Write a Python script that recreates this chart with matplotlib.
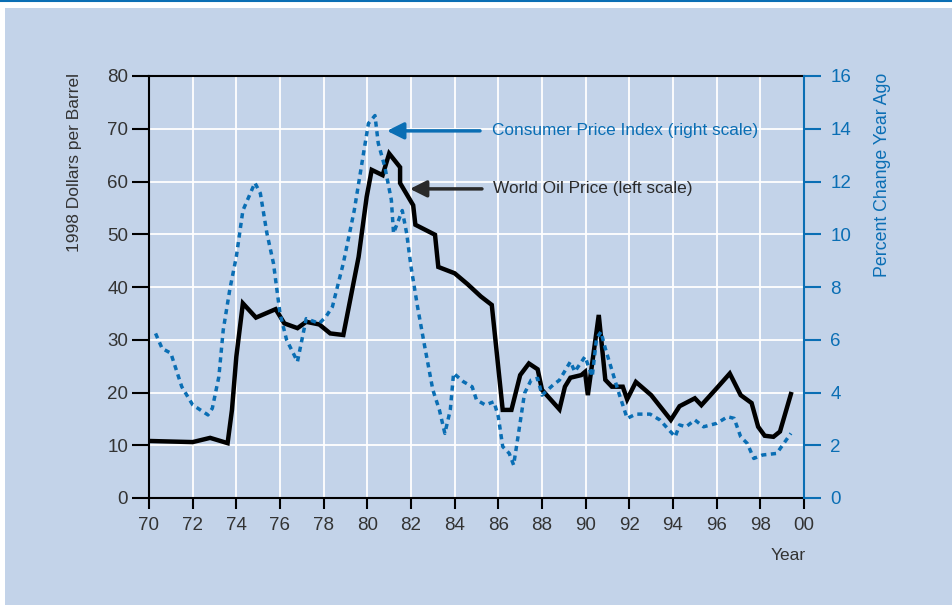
import numpy as np
import matplotlib.pyplot as plt
import matplotlib.patches as mpatches
from matplotlib.lines import Line2D

plt.rcParams['font.family'] = ['Liberation Sans', 'DejaVu Sans']

# World oil price, 1998 dollars per barrel (left scale)
oil_year = [70.1, 72.0, 72.8, 73.6, 73.8, 74.0, 74.3, 74.9, 75.8, 76.2, 76.8, 77.2,
            77.8, 78.3, 78.9, 79.6, 79.97, 80.2, 80.7, 81.0, 81.5, 81.5, 82.1, 82.2,
            83.1, 83.25, 84.0, 84.6, 85.2, 85.7, 86.2, 86.6, 87.0, 87.4, 87.8, 88.0,
            88.8, 89.05, 89.3, 89.8, 89.97, 90.1, 90.6, 90.9, 91.2, 91.7, 91.9, 92.3,
            93.0, 93.9, 94.3, 95.0, 95.3, 96.0, 96.6, 97.1, 97.6, 97.9, 98.2, 98.6,
            98.9, 99.4]
oil_price = [10.8, 10.6, 11.4, 10.4, 16.7, 26.8, 36.9, 34.2, 35.8, 33.1, 32.2, 33.4,
             32.9, 31.2, 30.9, 45.7, 57.1, 62.2, 61.2, 65.3, 62.7, 59.7, 55.5, 51.8,
             49.9, 43.8, 42.6, 40.5, 38.2, 36.6, 16.7, 16.7, 23.3, 25.5, 24.4, 20.5,
             16.8, 21.1, 22.8, 23.3, 23.9, 19.5, 34.7, 22.4, 21.1, 21.1, 18.7, 22.0,
             19.5, 14.8, 17.4, 18.9, 17.6, 20.8, 23.6, 19.5, 18.0, 13.5, 11.8, 11.6,
             12.6, 19.7]

# Consumer price index, percent change year ago (right scale)
cpi_year = [70.3, 70.6, 71.0, 71.5, 72.0, 72.7, 72.9, 73.2, 73.4, 73.7, 74.0, 74.3,
            74.85, 75.1, 75.4, 75.7, 76.0, 76.3, 76.8, 77.2, 77.8, 78.1, 78.4, 78.9,
            79.4, 79.8, 80.05, 80.35, 80.5, 80.8, 81.1, 81.2, 81.6, 81.8, 82.0, 82.3,
            82.6, 83.0, 83.3, 83.55, 83.8, 83.95, 84.4, 84.8, 85.0, 85.4, 85.8, 86.0,
            86.2, 86.5, 86.7, 86.9, 87.2, 87.5, 87.8, 88.0, 88.5, 88.8, 89.3, 89.5,
            89.97, 90.3, 90.5, 90.7, 90.9, 91.2, 91.5, 91.9, 92.3, 92.95, 93.4, 94.1,
            94.3, 94.6, 95.0, 95.4, 96.0, 96.5, 96.8, 97.1, 97.4, 97.7, 98.1, 98.75,
            99.4]
cpi_pct = [6.24, 5.67, 5.49, 4.22, 3.53, 3.15, 3.40, 4.6, 6.37, 7.9, 9.15, 10.9,
           11.95, 11.55, 10.04, 8.9, 7.0, 6.0, 5.17, 6.8, 6.62, 6.87, 7.25, 8.9,
           10.9, 12.94, 14.2, 14.5, 13.45, 12.56, 11.3, 10.04, 10.9, 10.04, 8.77, 7.25,
           5.87, 4.1, 3.34, 2.45, 3.34, 4.73, 4.41, 4.22, 3.72, 3.53, 3.65, 3.08,
           1.95, 1.69, 1.25, 2.32, 3.97, 4.47, 4.54, 3.9, 4.28, 4.47, 5.17, 4.79,
           5.36, 4.6, 6.06, 6.3, 5.67, 4.85, 4.03, 3.02, 3.18, 3.18, 2.96, 2.32,
           2.77, 2.7, 2.96, 2.7, 2.83, 3.08, 3.02, 2.32, 2.07, 1.5, 1.63, 1.69,
           2.45]

x_ticks = list(range(70, 101, 2))
x_labels = ['%02d' % (t % 100) for t in x_ticks]

bg = '#c3d3e9'
blue = '#0a6eb4'
txt = '#333333'

W, H = 953, 605
fig = plt.figure(figsize=(W / 100, H / 100), dpi=100)
fig.patch.set_facecolor('white')
fig.patches.append(mpatches.Rectangle((5 / W, 0), 1, 1 - 8 / H, transform=fig.transFigure,
                                      facecolor=bg, edgecolor='none', zorder=-10))
fig.lines.append(Line2D([0, 1], [1 - 0.5 / H, 1 - 0.5 / H], transform=fig.transFigure,
                        color=blue, lw=1.5))

ax = fig.add_axes([149 / W, (H - 498) / H, (804 - 149) / W, (498 - 76) / H])
ax.set_facecolor(bg)
ax.set_xlim(70, 100)
ax.set_ylim(0, 80)
ax.set_xticks(x_ticks)
ax.set_xticklabels(x_labels)
ax.set_yticks(range(0, 81, 10))
ax.grid(True, color='white', lw=1.3)
ax.set_axisbelow(True)
for s in ['left', 'top', 'bottom']:
    ax.spines[s].set_linewidth(1.5)
    ax.spines[s].set_color('black')
ax.spines['right'].set_visible(False)
ax.tick_params(axis='y', length=12, width=1.5, pad=3, labelsize=13.5, labelcolor=txt)
ax.tick_params(axis='x', length=8, width=1.5, pad=6, labelsize=13.5, labelcolor=txt)

ax.plot(oil_year, oil_price, color='black', lw=3.2, solid_joinstyle='miter', zorder=3)

ax2 = ax.twinx()
ax2.set_ylim(0, 16)
ax2.set_yticks(range(0, 17, 2))
for s in ['left', 'top', 'bottom']:
    ax2.spines[s].set_visible(False)
ax2.spines['right'].set_color(blue)
ax2.spines['right'].set_linewidth(1.5)
ax2.tick_params(axis='y', length=12, width=1.5, pad=7, labelsize=13.5,
                color=blue, labelcolor=blue)
ax2.plot(cpi_year, cpi_pct, color=blue, lw=2.5, linestyle=(0, (1.5, 1.3)), zorder=4)

# labels
fig.text(75 / W, 1 - 73 / H, '1998 Dollars per Barrel', rotation=90, ha='center',
         va='top', fontsize=12.5, color=txt)
fig.text(883 / W, 1 - 73 / H, 'Percent Change Year Ago', rotation=90, ha='center',
         va='top', fontsize=12.8, color=blue)
fig.text(806 / W, 1 - 556 / H, 'Year', ha='right', va='center', fontsize=12.5, color=txt)

# annotations
ax.annotate('', xy=(80.9, 69.6), xytext=(85.16, 69.6),
            arrowprops=dict(arrowstyle='-|>,head_length=1.0,head_width=0.5',
                            lw=2.5, color=blue, shrinkA=0, shrinkB=0), zorder=5)
ax.text(85.71, 69.6, 'Consumer Price Index (right scale)', ha='left', va='center',
        fontsize=12.4, color=blue)
ax.annotate('', xy=(81.95, 58.6), xytext=(85.25, 58.6),
            arrowprops=dict(arrowstyle='-|>,head_length=1.0,head_width=0.5',
                            lw=2.5, color='#2a2a2a', shrinkA=0, shrinkB=0), zorder=5)
ax.text(85.76, 58.6, 'World Oil Price (left scale)', ha='left', va='center',
        fontsize=12.4, color='#2a2a2a')

fig.savefig('out.png', dpi=100)
